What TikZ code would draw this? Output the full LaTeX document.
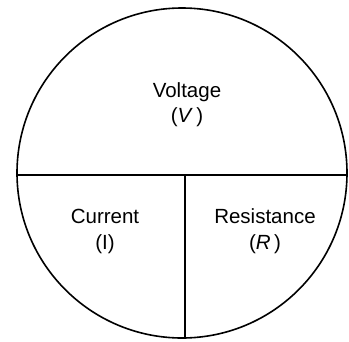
\documentclass[tikz,border=0pt]{standalone}
\usepackage{fontspec}
\setmainfont{Liberation Sans}
\begin{document}
\begin{tikzpicture}[x=1pt,y=-1pt,
  ln/.style={line width=1.6pt, black},
  lbl/.style={anchor=base, inner sep=0pt, font=\fontsize{20.5}{24}\selectfont}]
\useasboundingbox (0,0) rectangle (349,341);
\coordinate (O) at (182,173);
\draw[ln] (O) circle[radius=165];
\coordinate (L) at (17,175);
\coordinate (R) at (347,175);
\coordinate (T) at (185,175);
\coordinate (B) at (185,338);
\draw[ln] (L) -- (R);
\draw[ln] (T) -- (B);
\node[lbl] (v1) at (187,97) {Voltage};
\node[lbl] (v2) at (187,122) {(\textit{V}\,)};
\node[lbl] (c1) at (105,223) {Current};
\node[lbl] (c2) at (105,249) {(I)};
\node[lbl] (r1) at (265,223) {Resistance};
\node[lbl] (r2) at (265,249) {(\textit{R}\,)};
\end{tikzpicture}
\end{document}
